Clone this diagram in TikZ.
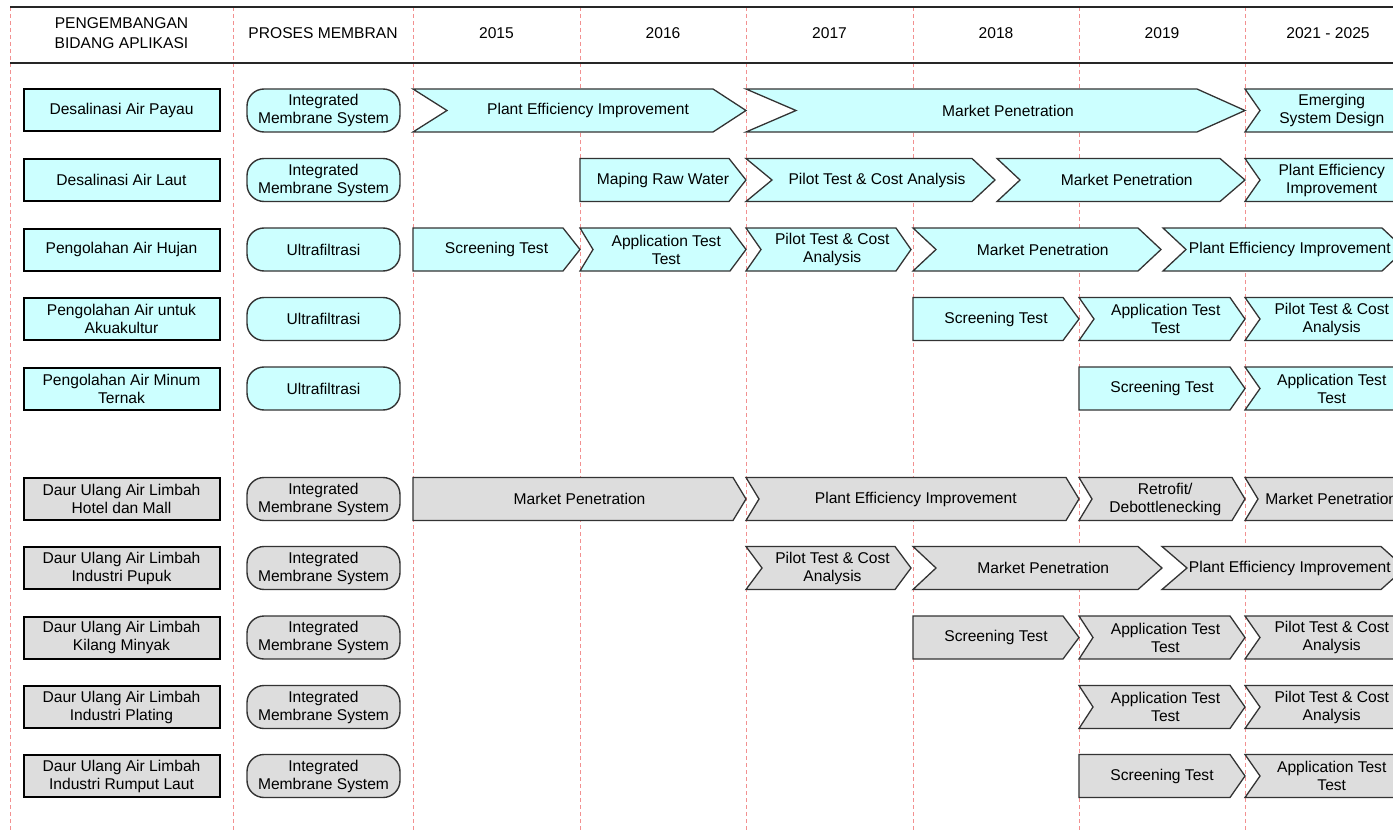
\documentclass[tikz,border=0pt]{standalone}
\usepackage{fontspec}
\setmainfont{Liberation Sans}

\definecolor{stepcyan}{HTML}{CCFFFF}
\definecolor{stepgray}{HTML}{DDDDDD}
\definecolor{gridred}{HTML}{F29090}

\tikzset{
  every node/.style={font=\fontsize{15.6}{18}\selectfont, text=black},
  gridline/.style={gridred, line width=0.8pt, dash pattern=on 4pt off 3pt},
  ruleline/.style={black!85, line width=2pt},
  appbox/.style={draw=black, line width=2pt, minimum width=196pt, minimum height=42pt,
                 align=center, inner sep=0pt},
  membox/.style={draw=black!80, line width=1.4pt, rounded corners=17pt, minimum width=153pt,
                 minimum height=43pt, align=center, inner sep=0pt},
  stepline/.style={draw=black!80, line width=1.3pt, line join=miter},
  steptext/.style={align=center, inner sep=0pt},
  headtext/.style={align=center, inner sep=0pt, font=\fontsize{15.6}{20.5}\selectfont},
}

% one roadmap stage: name, left x, right x, row y, notch depth, point depth, fill, label
\newcommand{\roadstep}[8]{%
  \draw[stepline, fill=#7] (#2,#4-21.5) -- (#3-#6,#4-21.5) -- (#3,#4)
      -- (#3-#6,#4+21.5) -- (#2,#4+21.5) -- (#2+#5,#4) -- cycle;
  \node[steptext] (#1) at ({(#2+#3)/2+#5/4},#4) {#8};
}

\begin{document}
\begin{tikzpicture}[x=1pt,y=-1pt]
\useasboundingbox (0,0) rectangle (1393,832);
\clip (0,0) rectangle (1393,832);

% column guides
\foreach \gx in {10,233,413,580,746,913,1079,1245}
  \draw[gridline] (\gx,7) -- (\gx,832);

% header rules
\draw[ruleline] (10,7) -- (1400,7);
\draw[ruleline] (10,63) -- (1400,63);

% header
\node[headtext] (h1) at (121.5,33) {PENGEMBANGAN\\BIDANG APLIKASI};
\node[headtext] (h2) at (323,33) {PROSES MEMBRAN};
\node[headtext] (h3) at (496.5,33) {2015};
\node[headtext] (h4) at (663,33) {2016};
\node[headtext] (h5) at (829.5,33) {2017};
\node[headtext] (h6) at (996,33) {2018};
\node[headtext] (h7) at (1162,33) {2019};
\node[headtext] (h8) at (1328,33) {2021 - 2025};

% application fields and membrane processes
\foreach \n/\ry/\fc/\app/\mem in {
   1/110.5/stepcyan/{Desalinasi Air Payau}/{Integrated\\Membrane System},
   2/180/stepcyan/{Desalinasi Air Laut}/{Integrated\\Membrane System},
   3/249.5/stepcyan/{Pengolahan Air Hujan}/{Ultrafiltrasi},
   4/319/stepcyan/{Pengolahan Air untuk\\Akuakultur}/{Ultrafiltrasi},
   5/388.5/stepcyan/{Pengolahan Air Minum\\Ternak}/{Ultrafiltrasi},
   6/499/stepgray/{Daur Ulang Air Limbah\\Hotel dan Mall}/{Integrated\\Membrane System},
   7/568/stepgray/{Daur Ulang Air Limbah\\Industri Pupuk}/{Integrated\\Membrane System},
   8/637.5/stepgray/{Daur Ulang Air Limbah\\Kilang Minyak}/{Integrated\\Membrane System},
   9/707/stepgray/{Daur Ulang Air Limbah\\Industri Plating}/{Integrated\\Membrane System},
   10/776/stepgray/{Daur Ulang Air Limbah\\Industri Rumput Laut}/{Integrated\\Membrane System}} {
  \node[appbox, fill=\fc] (app\n) at (121.5,\ry) {\app};
  \node[membox, fill=\fc] (mem\n) at (323.5,\ry) {\mem};
}

% row 1
\roadstep{s11}{413}{746}{110.5}{34}{33}{stepcyan}{Plant Efficiency Improvement}
\roadstep{s12}{746}{1245}{110.5}{50}{48}{stepcyan}{Market Penetration}
\roadstep{s13}{1245}{1411}{110.5}{15}{15}{stepcyan}{Emerging\\System Design}
% row 2
\roadstep{s21}{580}{746}{180}{0}{17}{stepcyan}{Maping Raw Water}
\roadstep{s22}{746}{995}{180}{26}{23}{stepcyan}{Pilot Test \& Cost Analysis}
\roadstep{s23}{997}{1245}{180}{23}{25}{stepcyan}{Market Penetration}
\roadstep{s24}{1245}{1411}{180}{15}{15}{stepcyan}{Plant Efficiency\\Improvement}
% row 3
\roadstep{s31}{413}{580}{249.5}{0}{17}{stepcyan}{Screening Test}
\roadstep{s32}{580}{746}{249.5}{13}{16}{stepcyan}{Application Test\\Test}
\roadstep{s33}{746}{911}{249.5}{15}{15}{stepcyan}{Pilot Test \& Cost\\Analysis}
\roadstep{s34}{913}{1161}{249.5}{23}{23}{stepcyan}{Market Penetration}
\roadstep{s35}{1163}{1405}{249.5}{23}{23}{stepcyan}{Plant Efficiency Improvement}
% row 4
\roadstep{s41}{913}{1079}{319}{0}{16}{stepcyan}{Screening Test}
\roadstep{s42}{1079}{1245}{319}{15}{15}{stepcyan}{Application Test\\Test}
\roadstep{s43}{1245}{1411}{319}{15}{15}{stepcyan}{Pilot Test \& Cost\\Analysis}
% row 5
\roadstep{s51}{1079}{1245}{388.5}{0}{15}{stepcyan}{Screening Test}
\roadstep{s52}{1245}{1411}{388.5}{15}{15}{stepcyan}{Application Test\\Test}
% row 6
\roadstep{s61}{413}{746}{499}{0}{13}{stepgray}{Market Penetration}
\roadstep{s62}{746}{1079}{499}{13}{13}{stepgray}{Plant Efficiency Improvement}
\roadstep{s63}{1079}{1245}{499}{13}{13}{stepgray}{Retrofit/\\Debottlenecking}
\roadstep{s64}{1245}{1411}{499}{13}{13}{stepgray}{Market Penetration}
% row 7
\roadstep{s71}{746}{911}{568}{16}{16}{stepgray}{Pilot Test \& Cost\\Analysis}
\roadstep{s72}{913}{1162}{568}{23}{24}{stepgray}{Market Penetration}
\roadstep{s73}{1162}{1405}{568}{25}{24}{stepgray}{Plant Efficiency Improvement}
% row 8
\roadstep{s81}{913}{1079}{637.5}{0}{16}{stepgray}{Screening Test}
\roadstep{s82}{1079}{1245}{637.5}{14}{15}{stepgray}{Application Test\\Test}
\roadstep{s83}{1245}{1411}{637.5}{15}{15}{stepgray}{Pilot Test \& Cost\\Analysis}
% row 9
\roadstep{s91}{1079}{1245}{707}{14}{15}{stepgray}{Application Test\\Test}
\roadstep{s92}{1245}{1411}{707}{15}{15}{stepgray}{Pilot Test \& Cost\\Analysis}
% row 10
\roadstep{s101}{1079}{1245}{776}{0}{15}{stepgray}{Screening Test}
\roadstep{s102}{1245}{1411}{776}{15}{15}{stepgray}{Application Test\\Test}
\end{tikzpicture}
\end{document}
